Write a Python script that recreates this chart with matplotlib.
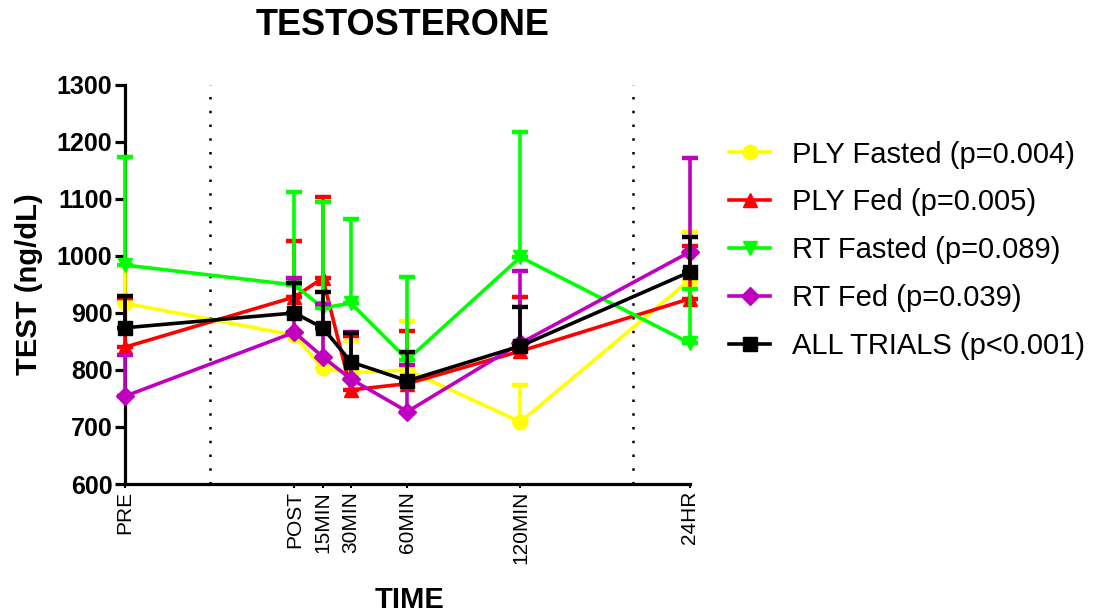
import matplotlib
matplotlib.use("Agg")
import matplotlib.pyplot as plt
from matplotlib.lines import Line2D

plt.rcParams['font.family'] = ['Liberation Sans', 'DejaVu Sans']

# Time points (x in half-hour units so spacing follows elapsed time)
time_labels = ["PRE", "POST", "15MIN", "30MIN", "60MIN", "120MIN", "24HR"]
time_pos = [0, 3, 3.5, 4, 5, 7, 10]

# Mean testosterone (ng/dL) and upper error (SD) per group
ply_fasted = [917, 861, 803, 795, 800, 709, 958]
ply_fasted_err = [65, 65, 63, 56, 86, 65, 84]

ply_fed = [840, 928, 961, 765, 776, 833, 925]
ply_fed_err = [86, 98, 142, 95, 92, 95, 92]

rt_fasted = [984, 949, 909, 917, 818, 998, 847]
rt_fasted_err = [190, 163, 186, 148, 145, 220, 95]

rt_fed = [754, 866, 823, 784, 727, 847, 1007]
rt_fed_err = [72, 95, 93, 82, 81, 127, 165]

all_trials = [874, 900, 874, 814, 781, 842, 972]
all_trials_err = [56, 53, 63, 51, 51, 69, 61]

series = [
    ("PLY Fasted (p=0.004)", ply_fasted, ply_fasted_err, "#FFFF00", "o", 10.5),
    ("PLY Fed (p=0.005)", ply_fed, ply_fed_err, "#FF0000", "^", 10.5),
    ("RT Fasted (p=0.089)", rt_fasted, rt_fasted_err, "#00FF00", "v", 10.5),
    ("RT Fed (p=0.039)", rt_fed, rt_fed_err, "#BF00BF", "D", 9.5),
    ("ALL TRIALS (p<0.001)", all_trials, all_trials_err, "#000000", "s", 10.5),
]

fig = plt.figure(figsize=(11.12, 6.15), dpi=100)
ax = fig.add_axes([0.1124, 0.213, 0.508, 0.649])

handles = []
for i, (label, vals, err, color, marker, ms) in enumerate(series):
    ax.errorbar(time_pos, vals, yerr=[[0] * len(err), err], color=color,
                marker=marker, markersize=ms, linewidth=2.6, elinewidth=2.6,
                capsize=5.5, capthick=3.2, zorder=3 + i, clip_on=False)
    handles.append(Line2D([0], [0], color=color, marker=marker, markersize=ms,
                          linewidth=2.6, label=label))

# Dotted separators
for xv in (1.5, 9):
    ax.axvline(xv, color="black", linestyle=(0, (1, 4.5)), linewidth=1.8, zorder=1)

ax.set_xlim(0, 10)
ax.set_ylim(600, 1300)
ax.set_yticks(range(600, 1301, 100))
ax.set_xticks(time_pos)
ax.set_xticklabels(time_labels, rotation=90, fontsize=15)
for t in ax.get_yticklabels():
    t.set_fontsize(18)
    t.set_fontweight("bold")

for s in ("top", "right"):
    ax.spines[s].set_visible(False)
for s in ("left", "bottom"):
    ax.spines[s].set_linewidth(2.3)
ax.tick_params(axis="y", direction="out", length=7, width=2.3, pad=2)
ax.tick_params(axis="x", direction="out", length=3, width=1.5, pad=2)

fig.text(0.362, 0.959, "TESTOSTERONE", fontsize=26, fontweight="bold",
         ha="center", va="center")
fig.text(0.026, 0.538, "TEST (ng/dL)", fontsize=21, fontweight="bold",
         rotation=90, ha="center", va="center")
fig.text(0.368, 0.025, "TIME", fontsize=21, fontweight="bold",
         ha="center", va="center")

fig.legend(handles=handles, loc="center left", bbox_to_anchor=(0.656, 0.593),
           bbox_transform=fig.transFigure, frameon=False, fontsize=21,
           borderpad=0, borderaxespad=0, handlelength=1.4, handletextpad=0.75,
           labelspacing=0.68)

fig.savefig("out.png", dpi=100)
